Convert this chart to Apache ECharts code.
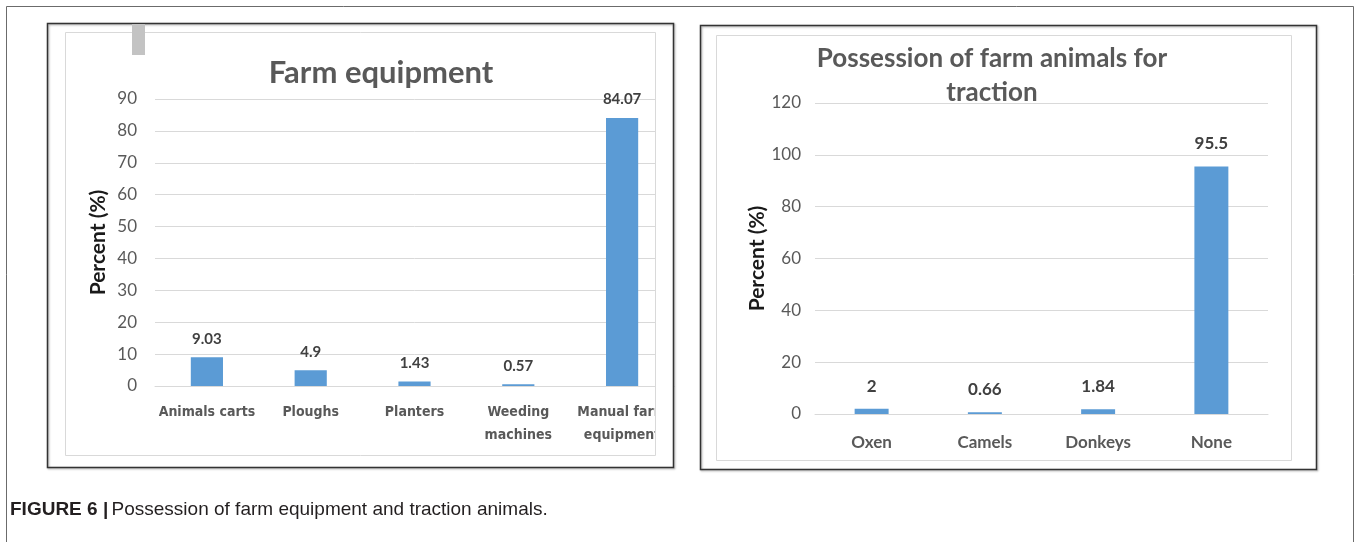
<!DOCTYPE html>
<html>
<head>
<meta charset="utf-8">
<script src="https://cdn.jsdelivr.net/npm/echarts@6/dist/echarts.min.js"></script>
<style>
html,body{margin:0;padding:0;background:#fff;}
#c{width:1357px;height:542px;}
</style>
</head>
<body>
<div id="c"></div>
<script>
// Left chart: Farm equipment
const equipCategories = ['Animals carts', 'Ploughs', 'Planters', 'Weeding\nmachines', 'Manual farm\nequipment'];
const equipValues = [9.03, 4.9, 1.43, 0.57, 84.07];
const equipTicks = {min: 0, max: 90, interval: 10};

// Right chart: Possession of farm animals for traction
const animalCategories = ['Oxen', 'Camels', 'Donkeys', 'None'];
const animalValues = [2, 0.66, 1.84, 95.5];
const animalTicks = {min: 0, max: 120, interval: 20};

const titles = ['Farm equipment', 'Possession of farm animals for\ntraction'];
const yAxisTitle = 'Percent (%)';

const BAR = '#5B9BD5';
const GRID = '#d9d9d9';
const TXT = '#595959';
const LBL = '#404040';
const FONT = 'Lato, "Open Sans", sans-serif';
const NARROW = '"DejaVu Sans Condensed", "Liberation Sans Narrow", sans-serif';

const chart = echarts.init(document.getElementById('c'), null, {renderer: 'canvas'});

const option = {
  animation: false,
  backgroundColor: '#ffffff',
  title: [
    {text: titles[0], left: 376, top: 52, textAlign: 'center',
     textStyle: {fontFamily: FONT, fontSize: 31, fontWeight: 'bold', color: TXT}},
    {text: titles[1], left: 987, top: 37, textAlign: 'center',
     textStyle: {fontFamily: FONT, fontSize: 26, fontWeight: 'bold', color: TXT, lineHeight: 34}}
  ],
  grid: [
    {left: 155, right: 1357 - 674, top: 99, bottom: 542 - 386, containLabel: false},
    {left: 815, right: 1357 - 1268, top: 103, bottom: 542 - 414, containLabel: false}
  ],
  xAxis: [
    {type: 'category', gridIndex: 0, data: equipCategories,
     axisLine: {show: true, lineStyle: {color: GRID, width: 1}},
     axisTick: {show: false},
     axisLabel: {interval: 0, margin: 15, color: TXT, fontFamily: NARROW,
                 fontWeight: 'bold', fontSize: 14, lineHeight: 23}},
    {type: 'category', gridIndex: 1, data: animalCategories,
     axisLine: {show: true, lineStyle: {color: GRID, width: 1}},
     axisTick: {show: false},
     axisLabel: {interval: 0, margin: 20, color: TXT, fontFamily: FONT, fontWeight: 'bold', fontSize: 17}}
  ],
  yAxis: [
    {type: 'value', gridIndex: 0, min: equipTicks.min, max: equipTicks.max, interval: equipTicks.interval,
     name: yAxisTitle, nameLocation: 'middle', nameGap: 46, nameRotate: 90,
     nameTextStyle: {fontFamily: FONT, fontWeight: 'bold', fontSize: 21, color: '#1a1a1a'},
     axisLine: {show: false}, axisTick: {show: false},
     axisLabel: {margin: 18, color: TXT, fontFamily: FONT, fontSize: 17},
     splitLine: {lineStyle: {color: GRID, width: 1}}},
    {type: 'value', gridIndex: 1, min: animalTicks.min, max: animalTicks.max, interval: animalTicks.interval,
     name: yAxisTitle, nameLocation: 'middle', nameGap: 47, nameRotate: 90,
     nameTextStyle: {fontFamily: FONT, fontWeight: 'bold', fontSize: 21, color: '#1a1a1a'},
     axisLine: {show: false}, axisTick: {show: false},
     axisLabel: {margin: 14, color: TXT, fontFamily: FONT, fontSize: 17},
     splitLine: {lineStyle: {color: GRID, width: 1}}}
  ],
  series: [
    {type: 'bar', xAxisIndex: 0, yAxisIndex: 0, data: equipValues, barWidth: '31%',
     itemStyle: {color: BAR},
     label: {show: true, position: 'top', distance: 11, color: LBL, fontFamily: FONT, fontWeight: 'bold', fontSize: 15}},
    {type: 'bar', xAxisIndex: 1, yAxisIndex: 1, data: animalValues, barWidth: '30%',
     itemStyle: {color: BAR},
     label: {show: true, position: 'top', distance: 14, color: LBL, fontFamily: FONT, fontWeight: 'bold', fontSize: 17}}
  ],
  graphic: [
    // outer figure frame
    {type: 'rect', z: 100, silent: true, shape: {x: 6.5, y: 6.5, width: 1347, height: 600},
     style: {fill: 'none', stroke: '#6b6b6b', lineWidth: 1}},
    // left chart: cover area clipped by chart area
    {type: 'rect', z: 99, silent: true, shape: {x: 656, y: 33, width: 17, height: 434},
     style: {fill: '#ffffff'}},
    {type: 'rect', z: 100, silent: true, shape: {x: 65.5, y: 32.5, width: 590, height: 423},
     style: {fill: 'none', stroke: '#d9d9d9', lineWidth: 1}},
    {type: 'rect', z: 100, silent: true, shape: {x: 47.5, y: 23.5, width: 626, height: 444},
     style: {fill: 'none', stroke: '#333333', lineWidth: 1.5, shadowBlur: 2, shadowOffsetX: 1, shadowOffsetY: 1, shadowColor: 'rgba(0,0,0,0.35)'}},
    {type: 'rect', z: 100, silent: true, shape: {x: 132, y: 24, width: 13, height: 31},
     style: {fill: '#c3c3c3'}},
    // right chart frames
    {type: 'rect', z: 100, silent: true, shape: {x: 716.5, y: 35.5, width: 575, height: 425},
     style: {fill: 'none', stroke: '#d9d9d9', lineWidth: 1}},
    {type: 'rect', z: 100, silent: true, shape: {x: 700.5, y: 25.5, width: 616, height: 444},
     style: {fill: 'none', stroke: '#333333', lineWidth: 1.5, shadowBlur: 2, shadowOffsetX: 1, shadowOffsetY: 1, shadowColor: 'rgba(0,0,0,0.35)'}},
    // caption
    {type: 'text', z: 100, silent: true, left: 10, top: 500,
     style: {text: '{b|FIGURE 6 |} {r|Possession of farm equipment and traction animals.}',
             rich: {
               b: {fontFamily: '"Liberation Sans", Arial, sans-serif', fontWeight: 'bold', fontSize: 19, fill: '#231f20'},
               r: {fontFamily: '"Liberation Sans", Arial, sans-serif', fontSize: 19, fill: '#231f20'}
             }}}
  ]
};
chart.setOption(option);
</script>
</body>
</html>
